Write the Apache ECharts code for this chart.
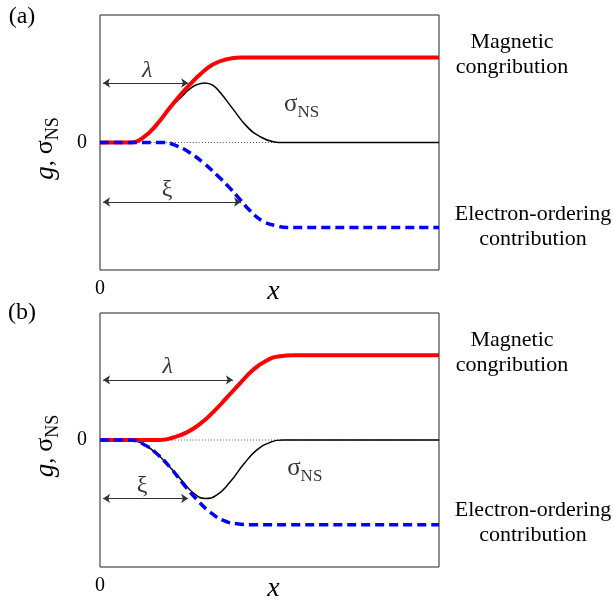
<!DOCTYPE html>
<html lang="en">
<head>
    <meta charset="utf-8">
    <title>g, σNS profiles</title>
    <script src="https://cdn.jsdelivr.net/npm/echarts@6/dist/echarts.min.js"></script>
</head>
<body style="margin:0;background:#fff;">
    <div id="main" style="width:614px;height:604px;"></div>
    <script type="text/javascript">
        // x runs 0..10 across the box, y runs -1.5..1.5 (0 = dotted line)
        // panel (a)
        var magA = [[0,0],[0.88,0],[1.28,0.06],[1.67,0.21],[2.06,0.41],[2.46,0.60],[2.65,0.68],[2.95,0.80],[3.34,0.92],[3.74,0.98],[4.13,1.0],[10,1.0]];
        var eleA = [[0,0],[1.87,0],[2.26,-0.04],[2.65,-0.12],[3.05,-0.24],[3.44,-0.38],[3.84,-0.54],[4.13,-0.67],[4.42,-0.80],[4.82,-0.93],[5.21,-0.98],[5.51,-1.0],[10,-1.0]];
        var sigA = [[0,0],[0.88,0],[1.28,0.06],[1.67,0.21],[2.06,0.40],[2.46,0.56],[2.65,0.63],[2.85,0.68],[3.10,0.70],[3.34,0.67],[3.54,0.59],[3.93,0.39],[4.33,0.19],[4.72,0.07],[5.11,0.01],[5.41,0],[10,0]];
        var lamA = [[0.09,0.70],[2.6,0.70]];
        var xiA = [[0.09,-0.70],[4.16,-0.70]];
        var txtA = [[1.39,0.84],[1.98,-0.55],[5.43,0.45]];   // λ, ξ, σNS
        // panel (b)
        var magB = [[0,0],[1.77,0],[2.16,0.03],[2.56,0.09],[2.95,0.19],[3.34,0.33],[3.74,0.50],[4.13,0.67],[4.52,0.83],[4.92,0.94],[5.31,0.99],[5.70,1.0],[10,1.0]];
        var eleB = [[0,0],[0.88,0],[1.28,-0.05],[1.67,-0.16],[2.06,-0.32],[2.46,-0.52],[2.85,-0.70],[3.24,-0.85],[3.64,-0.95],[4.03,-0.99],[4.42,-1.0],[10,-1.0]];
        var sigB = [[0,0],[0.88,0],[1.28,-0.05],[1.67,-0.16],[2.06,-0.32],[2.46,-0.50],[2.74,-0.62],[3.10,-0.69],[3.44,-0.65],[3.83,-0.50],[4.23,-0.29],[4.62,-0.12],[5.01,-0.03],[5.41,0],[10,0]];
        var lamB = [[0.09,0.71],[3.92,0.71]];
        var xiB = [[0.09,-0.69],[2.6,-0.69]];
        var txtB = [[2.0,0.86],[1.24,-0.54],[5.52,-0.34]];
        var zeroLine = [[0,0],[10,0]];

        var FONT = 'Liberation Serif';
        var myChart = echarts.init(document.getElementById('main'));

        function curve(i, data, color, width, type, z) {
            return {
                type: 'line', xAxisIndex: i, yAxisIndex: i, data: data,
                showSymbol: false, symbol: 'none', smooth: 0.5,
                lineStyle: {color: color, width: width, type: type}, z: z, silent: true
            };
        }

        function panel(i, mag, ele, sig, lam, xi, txt) {
            return [
                curve(i, zeroLine, '#555', 1, [1, 2], 1),
                curve(i, sig, '#000', 1.5, 'solid', 2),
                curve(i, mag, '#ff0000', 4, 'solid', 3),
                curve(i, ele, '#0000ff', 3.5, [9, 5], 4),
                {
                    type: 'lines', coordinateSystem: 'cartesian2d', xAxisIndex: i, yAxisIndex: i,
                    symbol: ['arrow', 'arrow'], symbolSize: 7, z: 5, silent: true,
                    lineStyle: {color: '#333', width: 1, opacity: 1},
                    data: [{coords: lam}, {coords: xi}]
                },
                {
                    type: 'scatter', xAxisIndex: i, yAxisIndex: i, symbolSize: 0, z: 6, silent: true,
                    label: {
                        show: true, position: 'inside', color: '#000', fontFamily: FONT, fontSize: 24,
                        rich: {
                            s: {fontFamily: FONT, fontSize: 25, color: '#000'},
                            n: {fontFamily: FONT, fontSize: 17, color: '#000', padding: [16, 0, 0, 0]}
                        }
                    },
                    data: [
                        {value: txt[0], label: {formatter: 'λ', fontStyle: 'italic'}},
                        {value: txt[1], label: {formatter: 'ξ'}},
                        {value: txt[2], label: {formatter: '{s|σ}{n|NS}', position: 'right', distance: 0}}
                    ]
                }
            ];
        }

        function xAx(i) {
            return {
                type: 'value', gridIndex: i, min: 0, max: 10, interval: 10,
                axisLine: {show: false}, axisTick: {show: false}, splitLine: {show: false},
                axisLabel: {margin: 9, color: '#000', fontFamily: FONT, fontSize: 20,
                    formatter: function (v) { return v === 0 ? '0' : ''; }},
                name: 'x', nameLocation: 'middle', nameGap: 8, nameMoveOverlap: false,
                nameTextStyle: {fontFamily: FONT, fontSize: 28, fontStyle: 'italic', color: '#000', padding: [0, 0, 0, 8]}
            };
        }

        function yAx(i) {
            return {
                type: 'value', gridIndex: i, min: -1.5, max: 1.5, interval: 1.5,
                axisLine: {show: false}, axisTick: {show: false}, splitLine: {show: false},
                axisLabel: {margin: 13, color: '#000', fontFamily: FONT, fontSize: 20,
                    formatter: function (v) { return v === 0 ? '0' : ''; }},
                name: '{g|g}, {s|σ}{n|NS}', nameLocation: 'middle', nameGap: 38, nameRotate: 90, nameMoveOverlap: false,
                nameTextStyle: {fontFamily: FONT, fontSize: 24, color: '#000', padding: [0, 12, 0, 0],
                    rich: {
                        g: {fontFamily: FONT, fontSize: 27, fontStyle: 'italic', color: '#000'},
                        s: {fontFamily: FONT, fontSize: 26, color: '#000'},
                        n: {fontFamily: FONT, fontSize: 18, color: '#000', padding: [15, 0, 0, 0]}
                    }}
            };
        }

        function note(txt, x, y) {
            return {type: 'text', style: {text: txt, x: x, y: y, align: 'center', verticalAlign: 'middle',
                font: '22px "Liberation Serif"', fill: '#000'}};
        }

        myChart.setOption({
            animation: false,
            backgroundColor: '#fff',
            grid: [
                {left: 100, top: 15, width: 339, height: 255, show: true, borderColor: '#222', borderWidth: 1, outerBoundsMode: 'none'},
                {left: 100, top: 313, width: 339, height: 254, show: true, borderColor: '#222', borderWidth: 1, outerBoundsMode: 'none'}
            ],
            xAxis: [xAx(0), xAx(1)],
            yAxis: [yAx(0), yAx(1)],
            series: panel(0, magA, eleA, sigA, lamA, xiA, txtA).concat(panel(1, magB, eleB, sigB, lamB, xiB, txtB)),
            graphic: [
                {type: 'text', style: {text: '(a)', x: 22, y: 17, align: 'center', verticalAlign: 'middle', font: '24px "Liberation Serif"', fill: '#000'}},
                {type: 'text', style: {text: '(b)', x: 22, y: 313, align: 'center', verticalAlign: 'middle', font: '24px "Liberation Serif"', fill: '#000'}},
                note('Magnetic', 512, 42), note('congribution', 512, 67),
                note('Electron-ordering', 533, 214), note('contribution', 533, 239),
                note('Magnetic', 512, 340), note('congribution', 512, 365),
                note('Electron-ordering', 533, 510), note('contribution', 533, 535)
            ]
        });
    </script>
</body>
</html>
